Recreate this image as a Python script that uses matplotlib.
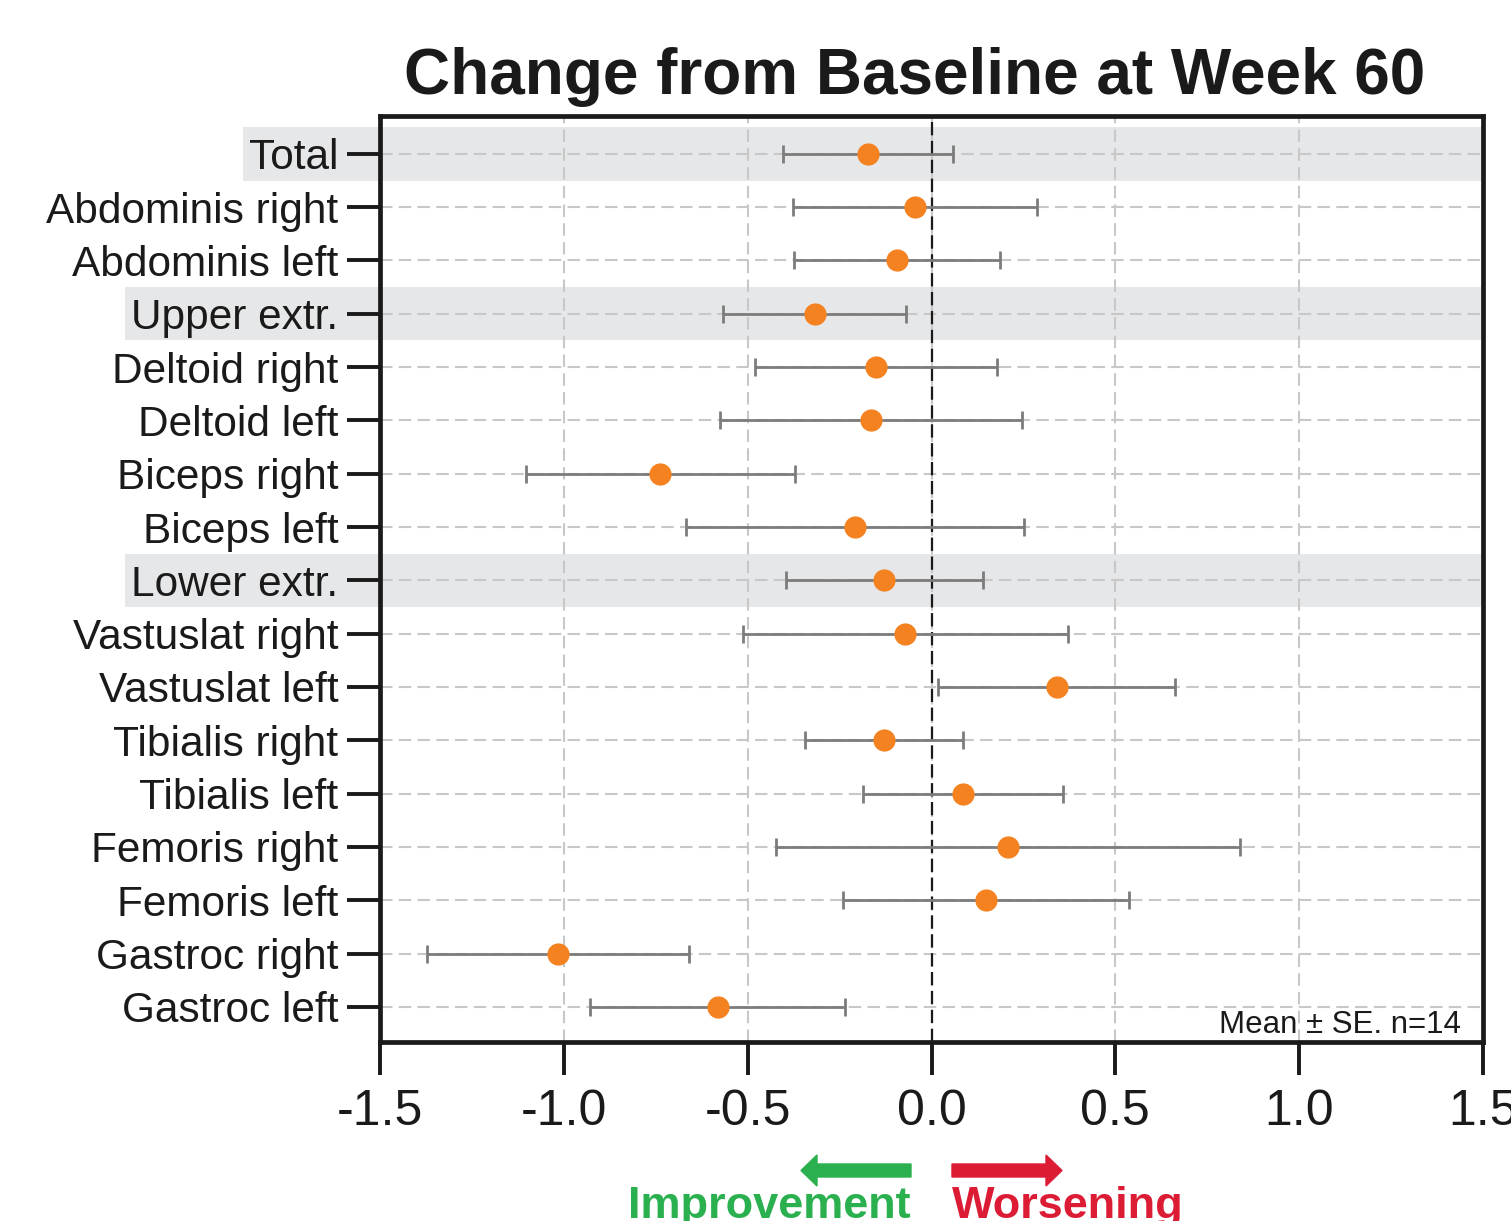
import numpy as np
import matplotlib
matplotlib.use("Agg")
import matplotlib.pyplot as plt
import matplotlib.patches as mpatches
from matplotlib.transforms import blended_transform_factory

plt.rcParams['font.family'] = ['Liberation Sans', 'DejaVu Sans']

# data (mean and SE)
muscles = ["Total", "Abdominis right", "Abdominis left", "Upper extr.",
           "Deltoid right", "Deltoid left", "Biceps right", "Biceps left",
           "Lower extr.", "Vastuslat right", "Vastuslat left", "Tibialis right",
           "Tibialis left", "Femoris right", "Femoris left", "Gastroc right",
           "Gastroc left"]
means = [-0.173, -0.045, -0.094, -0.317, -0.151, -0.165, -0.738, -0.208,
         -0.129, -0.072, 0.341, -0.129, 0.086, 0.208, 0.148, -1.016, -0.581]
ses = [0.232, 0.332, 0.280, 0.249, 0.330, 0.410, 0.366, 0.460,
       0.268, 0.442, 0.322, 0.215, 0.273, 0.630, 0.390, 0.357, 0.347]
summary_rows = ["Total", "Upper extr.", "Lower extr."]
xticks = [-1.5, -1.0, -0.5, 0.0, 0.5, 1.0, 1.5]

orange = "#F58220"
band_grey = "#E6E7E8"
green = "#2AB04F"
red = "#DC1C35"

fig = plt.figure(figsize=(15.11, 12.21), dpi=100)
ax = fig.add_axes([380 / 1511, 1 - 1042 / 1221, (1483 - 380) / 1511, (1042 - 116) / 1221])

y = np.arange(len(muscles))

ax.errorbar(means, y, xerr=ses, fmt="none", ecolor="#7c7c7c", elinewidth=2.0,
            capsize=6.5, capthick=2.0, zorder=3)
ax.plot(means, y, linestyle="none", marker="o", markersize=16,
        color=orange, markeredgewidth=0, zorder=4)

ax.axvline(0, color="#1a1a1a", lw=1.6, dashes=(6, 2.5), zorder=2)

ax.set_xlim(-1.5, 1.5)
ax.set_ylim(len(muscles) - 0.34, -0.71)
ax.set_xticks(xticks)
ax.set_xticklabels([f"{v:.1f}" for v in xticks])
ax.set_yticks(y)
ax.set_yticklabels(muscles)

ax.set_axisbelow(True)
ax.grid(True, color="#C8C8C8", lw=1.5, dashes=(6, 3))

for s in ax.spines.values():
    s.set_linewidth(3.4)
    s.set_color("#1a1a1a")
ax.tick_params(axis="y", length=24, width=2.8, pad=6, labelsize=30.5, colors="#1a1a1a")
ax.tick_params(axis="x", length=24, width=2.8, pad=10, labelsize=36, colors="#1a1a1a")

ax.set_title("Change from Baseline at Week 60", fontsize=46, fontweight="bold",
             color="#1a1a1a", pad=16, x=0.485)

ax.text(0.98, 0.002, "Mean \u00b1 SE. n=14", transform=ax.transAxes,
        ha="right", va="bottom", fontsize=22.5, color="#1a1a1a")

# grey bands behind summary rows, reaching out under their labels
fig.canvas.draw()
renderer = fig.canvas.get_renderer()
blend = blended_transform_factory(ax.transAxes, ax.transData)
for lab in ax.get_yticklabels():
    if lab.get_text() in summary_rows:
        bb = lab.get_window_extent(renderer)
        x0 = ax.transAxes.inverted().transform((bb.x0 - 6, 0))[0]
        row = muscles.index(lab.get_text())
        ax.add_patch(mpatches.Rectangle((x0, row - 0.5), 1 - x0, 1.0,
                                        transform=blend, facecolor=band_grey,
                                        edgecolor="none", clip_on=False, zorder=0.1))

# direction arrows under the axis (inches from the bottom-left corner)
ya = (1221 - 1170.5) / 100
fig.patches.append(mpatches.FancyArrow(9.11, ya, -1.10, 0, width=0.13, head_width=0.31,
                                       head_length=0.16, length_includes_head=True,
                                       color=green, transform=fig.dpi_scale_trans))
fig.patches.append(mpatches.FancyArrow(9.52, ya, 1.10, 0, width=0.13, head_width=0.31,
                                       head_length=0.16, length_includes_head=True,
                                       color=red, transform=fig.dpi_scale_trans))
fig.text(9.11 / 15.11, 1 - 1186 / 1221, "Improvement", ha="right", va="top",
         fontsize=32.5, fontweight="bold", color=green)
fig.text(9.52 / 15.11, 1 - 1186 / 1221, "Worsening", ha="left", va="top",
         fontsize=32.5, fontweight="bold", color=red)

fig.savefig("out.png", dpi=100)
